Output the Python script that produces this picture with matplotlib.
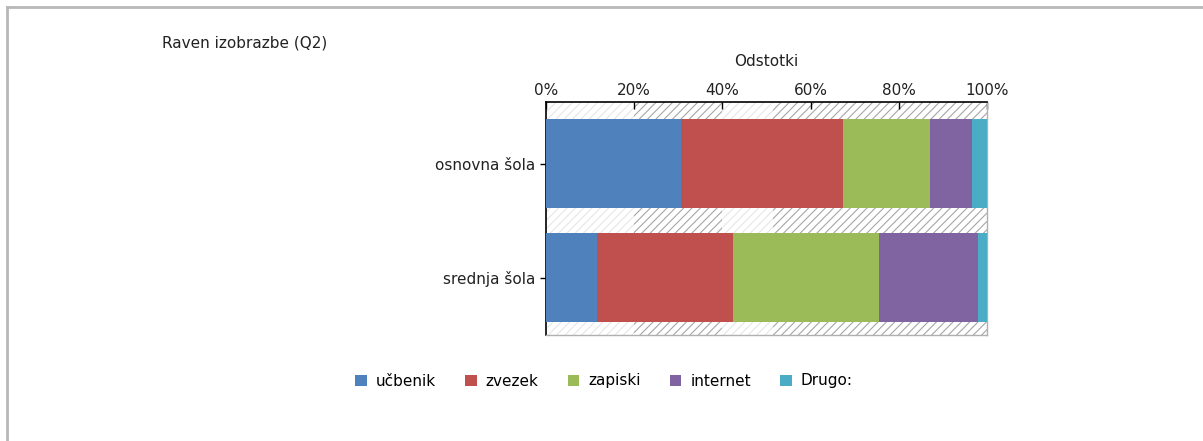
"""
Stacked percentage bar chart: Raven izobrazbe (Q2)
"""

import matplotlib
matplotlib.use("Agg")
import matplotlib.pyplot as plt
from matplotlib.lines import Line2D
from matplotlib.patches import Patch
import numpy as np

# data (percent of each row)
groups = ["osnovna šola", "srednja šola"]
series = ["učbenik", "zvezek", "zapiski", "internet", "Drugo:"]
ucbenik = [30.6, 11.5]
zvezek = [36.7, 30.8]
zapiski = [19.8, 33.1]
internet = [9.5, 22.6]
drugo = [3.4, 2.0]
colors = ["#4F81BD", "#C0504D", "#9BBB59", "#8064A2", "#4BACC6"]
ticks = [0, 20, 40, 60, 80, 100]


def plot_stacked(ax, values) -> None:
    """
    Draw horizontal stacked bars, one row per group
    """
    y = np.arange(len(groups))
    left = np.zeros(len(groups))
    for name, vals, col in zip(series, values, colors):
        ax.barh(y, vals, left=left, height=0.78, color=col, label=name, zorder=3)
        left += np.array(vals)


plt.rcParams['font.family'] = ['DejaVu Sans']
fig = plt.figure(figsize=(12.03, 4.41), dpi=100)
ax = fig.add_axes([0.4539, 0.2404, 0.3666, 0.529])

# faint hatched background bands seen behind the bars
plt.rcParams['hatch.linewidth'] = 0.8
ax.axvspan(0, 20, facecolor="white", edgecolor="#e6e6e6", hatch="////", lw=0, zorder=1)
ax.axvspan(20, 40, facecolor="white", edgecolor="#a6a6a6", hatch="////", lw=0, zorder=1)
ax.axvspan(40, 51.5, facecolor="white", edgecolor="#e6e6e6", hatch="////", lw=0, zorder=1)
ax.axvspan(51.5, 100, facecolor="white", edgecolor="#a6a6a6", hatch="////", lw=0, zorder=1)

plot_stacked(ax, [ucbenik, zvezek, zapiski, internet, drugo])

fs = 11
ax.set_xlim(0, 100)
ax.set_ylim(1.50, -0.545)
ax.set_yticks(range(len(groups)))
ax.set_yticklabels(groups, fontsize=fs, color="#222222")
ax.set_xticks(ticks)
ax.set_xticklabels([f"{t}%" for t in ticks], fontsize=fs, color="#222222")
ax.xaxis.tick_top()
ax.xaxis.set_label_position("top")
ax.set_xlabel("Odstotki", fontsize=fs, color="#222222", labelpad=12)
ax.tick_params(axis="x", direction="in", length=5, width=1, pad=3)
ax.tick_params(axis="y", direction="out", length=4, width=1, pad=4)

for side in ["left", "top"]:
    ax.spines[side].set_color("black")
    ax.spines[side].set_linewidth(1.2)
for side in ["right", "bottom"]:
    ax.spines[side].set_color("#b0b0b0")
    ax.spines[side].set_linewidth(1)

fig.text(162 / 1203, 1 - 43 / 441, "Raven izobrazbe (Q2)", fontsize=fs,
         color="#222222", va="center", ha="left")

handles = [Patch(facecolor=c, edgecolor="none") for c in colors]
fig.legend(handles, series, loc="center", bbox_to_anchor=(604 / 1203, 1 - 381 / 441),
           ncol=5, frameon=False, fontsize=fs, handlelength=0.75, handleheight=0.75,
           handletextpad=0.6, columnspacing=1.9)

# partial frame around the whole picture (top and left only)
fig.add_artist(Line2D([7 / 1203, 7 / 1203], [0, 1 - 7 / 441], transform=fig.transFigure,
                      color="#b8b8b8", lw=2))
fig.add_artist(Line2D([7 / 1203, 1], [1 - 7 / 441, 1 - 7 / 441], transform=fig.transFigure,
                      color="#b8b8b8", lw=2))

fig.savefig("out.png", dpi=100)
